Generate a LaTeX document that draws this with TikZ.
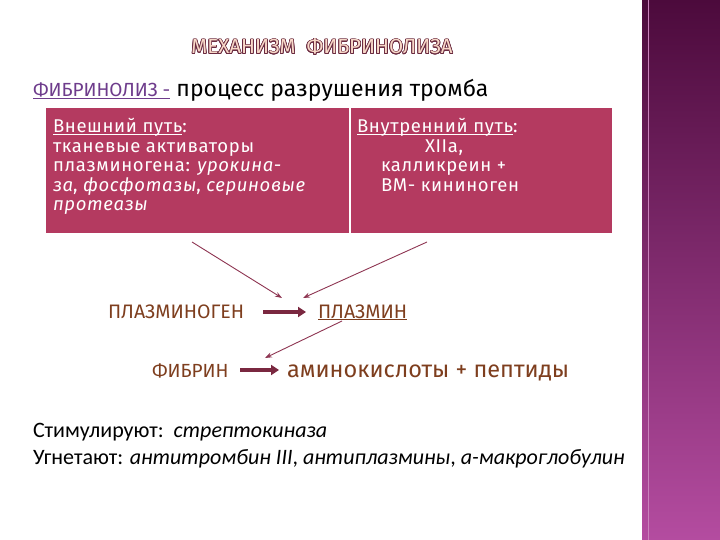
\documentclass[tikz,border=0pt]{standalone}
\usepackage{fontspec}
\setmainfont{Fira Sans}
\newfontfamily\bodyfont{Carlito}
\newfontfamily\boxfont[LetterSpace=3.5]{Fira Sans}
\usepackage{contour}
\usetikzlibrary{arrows.meta,calc}
\newcommand\lowul[1]{\underline{\smash{#1}}}
\definecolor{boxfill}{HTML}{B43A60}
\definecolor{arrowc}{HTML}{8E3552}
\definecolor{thickc}{HTML}{7A2840}
\definecolor{brownc}{HTML}{7E3E1E}
\definecolor{linkc}{HTML}{6E3C8C}
\definecolor{sidetop}{HTML}{4C0A3C}
\definecolor{sidebot}{HTML}{B44CA0}
\definecolor{titlefill}{HTML}{F8D8C8}
\definecolor{titleline}{HTML}{6A2A40}
\begin{document}
\begin{tikzpicture}[x=1pt,y=-1pt,
  txt/.style={anchor=base west,inner sep=0pt,outer sep=0pt},
  boxtxt/.style={txt,text=white,font=\boxfont\fontsize{18.5}{20}\selectfont},
  thin/.style={draw=arrowc,line width=0.9pt,-{Stealth[length=7pt,width=5pt]}},
  thick/.style={draw=thickc,line width=3.5pt,-{Triangle[length=8pt,width=10pt]}},
  brownlbl/.style={txt,text=brownc}]
\useasboundingbox (0,0) rectangle (720,540);
\fill[white] (0,0) rectangle (720,540);
% sidebar
\shade[top color=sidetop,bottom color=sidebot] (642,0) rectangle (720,540);
\draw[sidebot!70!white,line width=0.8pt] (648,0) -- (648,540);
% title
\contourlength{0.7pt}
\node[anchor=base,inner sep=0pt] (title) at (322,54) {\fontsize{20.5}{22}\selectfont\contour{titleline}{\textcolor{titlefill}{МЕХАНИЗМ\ \ ФИБРИНОЛИЗА}}};
% definition line
\node[txt,text=linkc] (def) at (33,97) {\fontsize{19}{22}\selectfont\lowul{ФИБРИНОЛИЗ -}};
\node[txt] (proc) at (def.base east) {\fontsize{23}{24}\selectfont\ процесс разрушения тромба};
% box
\node[fill=boxfill,draw=white,line width=0.8pt,minimum width=567pt,minimum height=126pt,anchor=north west,inner sep=0pt] (box) at (45,107) {};
\draw[white,line width=1.2pt] (350,107) -- (350,233);
\node[boxtxt] (l1) at (53,133) {\lowul{Внешний путь}:};
\node[boxtxt] (l2) at (53,153) {тканевые активаторы};
\node[boxtxt] (l3) at (53,172) {плазминогена: \textit{урокина-}};
\node[boxtxt] (l4) at (53,192) {\textit{за}, \textit{фосфотазы}, \textit{сериновые}};
\node[boxtxt] (l5) at (53,211) {\textit{протеазы}};
\node[boxtxt] (r1) at (357,133) {\lowul{Внутренний путь}:};
\node[boxtxt] (r2) at (425,153) {XIIa,};
\node[boxtxt] (r3) at (381,172) {калликреин +};
\node[boxtxt] (r4) at (381,192) {ВМ- кининоген};
% reaction
\node[brownlbl] (pg) at (108,318) {\fontsize{19.5}{22}\selectfont ПЛАЗМИНОГЕН};
\node[brownlbl] (pl) at (318,318) {\fontsize{19.5}{22}\selectfont\lowul{ПЛАЗМИН}};
\node[brownlbl] (fb) at (152,377) {\fontsize{19}{22}\selectfont ФИБРИН};
\node[brownlbl] (aa) at (287,377) {\fontsize{23.5}{26}\selectfont аминокислоты + пептиды};
\coordinate (la) at (192,242);
\coordinate (ra) at (427,242);
\coordinate (lt) at (282,298);
\coordinate (rt) at (303,298);
\coordinate (ps) at (342,321);
\coordinate (fe) at (265,358);
\draw[thin] (la) -- (lt);
\draw[thin] (ra) -- (rt);
\draw[thin] (ps) -- (fe);
\coordinate (t1s) at (263,312);
\coordinate (t1e) at (306,312);
\coordinate (t2s) at (240,370);
\coordinate (t2e) at (279,370);
\draw[thick] (t1s) -- (t1e);
\draw[thick] (t2s) -- (t2e);
% bottom
\node[txt] (st) at (33,437) {\bodyfont\fontsize{22}{24}\selectfont Стимулируют:\ \ \textit{стрептокиназа}};
\node[txt] (ug) at (33,464) {\bodyfont\fontsize{22}{24}\selectfont Угнетают: \textit{антитромбин III}, \textit{антиплазмины}, \textit{а-макроглобулин}};
\end{tikzpicture}
\end{document}
